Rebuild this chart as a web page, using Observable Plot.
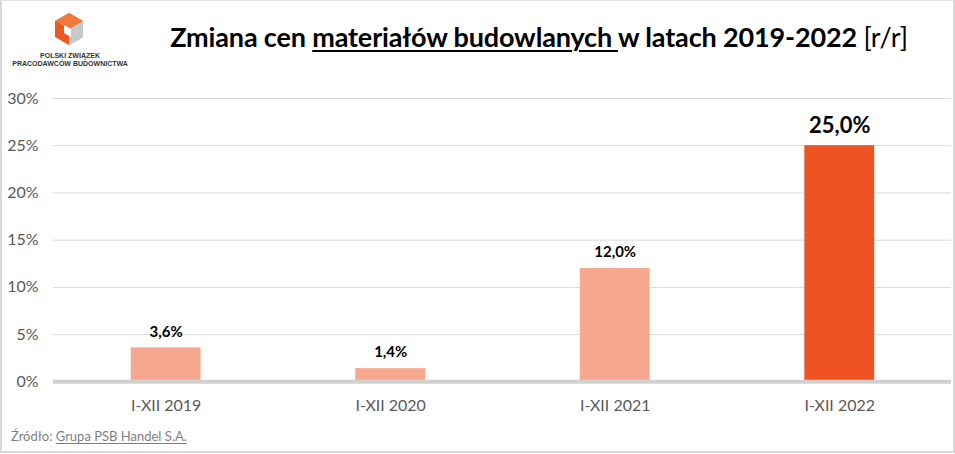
<!DOCTYPE html>
<html>
<head>
<meta charset="utf-8">
<script src="https://cdn.jsdelivr.net/npm/d3@7"></script>
<script src="https://cdn.jsdelivr.net/npm/@observablehq/plot@0.6"></script>
<style>
  html, body { margin: 0; padding: 0; background: #fff; }
  #frame { position: relative; width: 951px; height: 450px; border: 2px solid #d9d9d9; border-top: 1px solid #e6e6e6; background: #fff; overflow: hidden; font-family: Lato, "Open Sans", sans-serif; }
  #logo { position: absolute; left: 6px; top: 8px; width: 130px; height: 66px; }
  #title { position: absolute; left: 0; top: 19px; width: 1074px; text-align: center; font-size: 27px; font-weight: 700; color: #000; white-space: nowrap; letter-spacing: -0.15px; }
  #title u { text-decoration-thickness: 1.5px; text-underline-offset: 3px; }
  #title .thin { font-weight: 400; }
  #chart { position: absolute; left: -2px; top: 77px; }
  #source { position: absolute; left: 9px; top: 427px; font-size: 13px; color: #7f7f7f; }
  #source u { text-underline-offset: 2px; }
</style>
</head>
<body>
<div id="frame">
  <svg id="logo" viewBox="0 0 130 66">
    <polygon points="61,4 75,12 75,28 61,36 47,28 47,12" fill="#ec5a24"/>
    <polygon points="61,4 75,12 61,20 47,12" fill="#f07a3e"/>
    <polygon points="61,20 75,12 75,28 61,36" fill="#c9c9c9"/>
    <polygon points="56,16 63,20 63,28 56,24" fill="#fff"/>
    <text x="62" y="49" text-anchor="middle" font-family="Liberation Sans, Arial, sans-serif" font-weight="700" font-size="7" fill="#333">POLSKI ZWIĄZEK</text>
    <text x="62" y="57" text-anchor="middle" font-family="Liberation Sans, Arial, sans-serif" font-weight="700" font-size="7" fill="#333">PRACODAWCÓW BUDOWNICTWA</text>
  </svg>
  <div id="title">Zmiana cen <u>materiałów budowlanych </u>w latach 2019-2022 <span class="thin">[r/r]</span></div>
  <div id="chart"></div>
  <div id="source">Źródło: <u>Grupa PSB Handel S.A.</u></div>
</div>
<script>
const periods = ["I-XII 2019", "I-XII 2020", "I-XII 2021", "I-XII 2022"];
const changes = [3.6, 1.4, 12.0, 25.0];
const labels = ["3,6%", "1,4%", "12,0%", "25,0%"];
const barColors = ["#f7a990", "#f7a990", "#f7a990", "#f05323"];
const yTicks = [0, 5, 10, 15, 20, 25, 30];

const data = periods.map((p, i) => ({period: p, value: changes[i], label: labels[i], color: barColors[i], big: i === 3}));

const chart = Plot.plot({
  width: 955,
  height: 345,
  marginLeft: 53,
  marginRight: 2,
  marginTop: 20,
  marginBottom: 41,
  style: {fontFamily: "Lato, 'Open Sans', sans-serif", background: "transparent"},
  x: {domain: periods, paddingInner: 0.689, paddingOuter: 0.3445, label: null},
  y: {domain: [0, 30], label: null},
  marks: [
    Plot.gridY(yTicks, {stroke: "#d9d9d9", strokeOpacity: 1, strokeWidth: 1}),
    Plot.axisY(yTicks, {tickSize: 0, tickPadding: 15, tickFormat: d => d + "%", fontSize: 16, fill: "#595959", label: null}),
    Plot.axisX({tickSize: 0, tickPadding: 18, fontSize: 16, fill: "#595959", label: null}),
    Plot.barY(data, {x: "period", y: "value", fill: "color"}),
    Plot.ruleY([0], {stroke: "#d0d0d0", strokeWidth: 4}),
    Plot.text(data.filter(d => !d.big), {x: "period", y: "value", text: "label", dy: -16, fontSize: 15, fontWeight: 700, fill: "#000"}),
    Plot.text(data.filter(d => d.big), {x: "period", y: "value", text: "label", dy: -20, fontSize: 22, fontWeight: 700, fill: "#000"})
  ]
});
document.getElementById("chart").appendChild(chart);
</script>
</body>
</html>
